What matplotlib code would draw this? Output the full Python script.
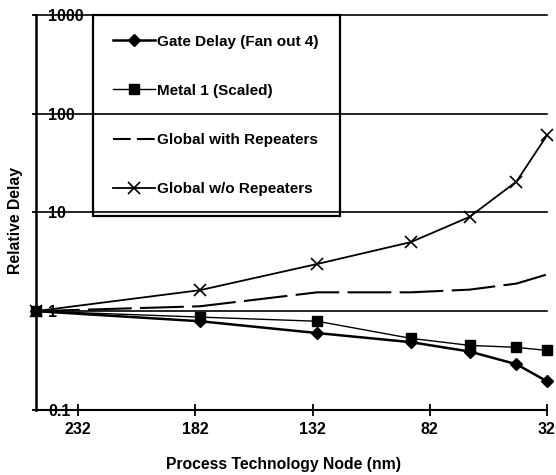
import matplotlib
matplotlib.use("Agg")
import matplotlib.pyplot as plt
from matplotlib.lines import Line2D

plt.rcParams['font.family'] = ['Liberation Sans', 'DejaVu Sans']
plt.rcParams['font.weight'] = 'bold'

# process nodes (nm)
nodes = [250, 180, 130, 90, 65, 45, 32]

# relative delay values
gate_delay = [1.0, 0.79, 0.60, 0.485, 0.39, 0.29, 0.195]
metal1 = [1.0, 0.87, 0.79, 0.53, 0.45, 0.43, 0.40]
global_rep = [1.0, 1.12, 1.55, 1.55, 1.65, 1.9, 2.35]
global_norep = [1.0, 1.63, 3.0, 5.0, 9.0, 20.5, 60.0]

xticks = [232, 182, 132, 82, 32]
yticks = [0.1, 1, 10, 100, 1000]
ytick_labels = ['0.1', '1', '10', '100', '1000']
grid_levels = [1, 10, 100, 1000]

fig = plt.figure(figsize=(5.56, 4.75), dpi=100)
ax = fig.add_axes([0.0647, 0.137, 0.919, 0.832])

ax.set_yscale('log')
ax.set_ylim(0.1, 1000)
ax.set_xlim(250, 32)

ax.plot(nodes, gate_delay, color='black', linewidth=1.8, marker='D',
        markersize=6.5, clip_on=False, zorder=4, label='Gate Delay (Fan out 4)')
ax.plot(nodes, metal1, color='black', linewidth=1.0, marker='s',
        markersize=7, clip_on=False, zorder=4, label='Metal 1 (Scaled)')
ax.plot(nodes, global_rep, color='black', linewidth=1.5,
        linestyle=(0, (21, 4)), zorder=3, label='Global with Repeaters')
ax.plot(nodes, global_norep, color='black', linewidth=1.3, marker='x',
        markersize=8, markeredgewidth=1.2, clip_on=False, zorder=4,
        label='Global w/o Repeaters')

# spines
for s in ['top', 'right']:
    ax.spines[s].set_visible(False)
ax.spines['left'].set_linewidth(1.8)
ax.spines['bottom'].set_linewidth(1.5)

ax.set_xticks(xticks)
ax.set_xticklabels([str(v) for v in xticks], fontsize=11.5, fontweight='bold')
ax.tick_params(axis='x', direction='inout', length=8, width=1.3, pad=5)

ax.set_yticks(yticks)
ax.set_yticklabels(ytick_labels, fontsize=11.5, fontweight='bold')
ax.yaxis.set_minor_locator(matplotlib.ticker.NullLocator())
ax.tick_params(axis='y', direction='out', length=3, width=1.3, pad=-11.6)
for lab in ax.get_yticklabels():
    lab.set_horizontalalignment('left')

ax.set_xlabel('Process Technology Node (nm)', fontsize=11.3, fontweight='bold')
ax.xaxis.set_label_coords(0.485, -0.12)
ax.set_ylabel('Relative Delay', fontsize=11.3, fontweight='bold')
ax.yaxis.set_label_coords(-0.025, 0.48)

leg = ax.legend(loc='upper left', bbox_to_anchor=(0.1115, 0.494, 0.4835, 0.506),
                mode='expand', borderaxespad=0, fancybox=False,
                edgecolor='black', prop={'size': 11, 'weight': 'bold'},
                labelspacing=2.3, handlelength=2.75, handletextpad=0.15,
                borderpad=1.3)
frame = leg.get_frame()
frame.set_linewidth(1.6)
frame.set_alpha(None)
frame.set_facecolor('white')
frame.set_edgecolor('black')
# two equal dashes in the legend sample
leg.get_lines()[2].set_linestyle((0, (8.5, 3)))

# horizontal gridlines, drawn at figure level so they run through the legend box
for y in grid_levels:
    fig.add_artist(Line2D([0, 1], [y, y], transform=ax.get_yaxis_transform(),
                          color='black', linewidth=1.2, zorder=5))

fig.savefig('out.png', dpi=100)
